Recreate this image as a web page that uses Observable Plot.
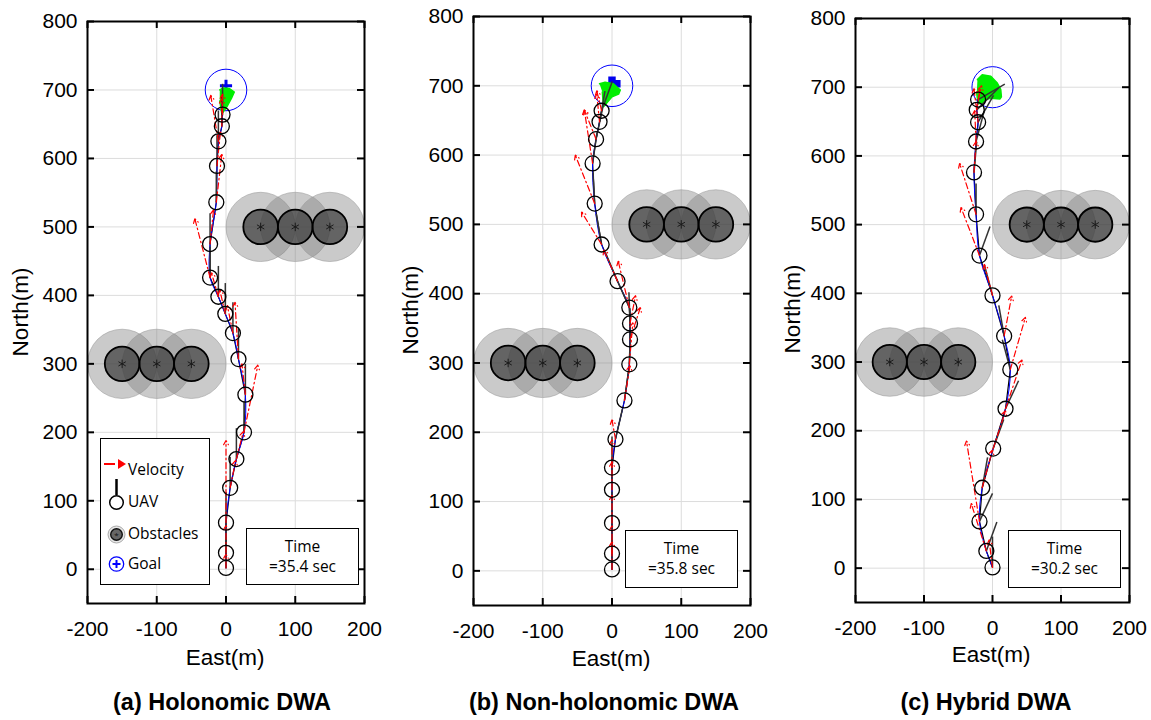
<!DOCTYPE html>
<html><head><meta charset="utf-8">
<script src="https://cdn.jsdelivr.net/npm/d3@7"></script>
<script src="https://cdn.jsdelivr.net/npm/@observablehq/plot@0.6"></script>
<style>
body{margin:0;background:#fff;}
#root{position:relative;width:1151px;height:720px;overflow:hidden;background:#fff;font-family:"Liberation Sans",Arial,sans-serif;}
.panel{position:absolute;top:0;}
.lbl{position:absolute;transform:translate(-50%,-50%);white-space:nowrap;color:#000;}
.box{position:absolute;box-sizing:border-box;border:1px solid #000;background:#fff;font-family:"Open Sans",sans-serif;}
.tline{position:absolute;left:0;right:0;text-align:center;white-space:nowrap;}
</style></head><body><div id="root"></div>
<script>
// ---------- shared data ----------
const xTicks = [-200, -100, 0, 100, 200];
const yTicks = [0, 100, 200, 300, 400, 500, 600, 700, 800];
const obstacleEast = [-150, -100, -50, 50, 100, 150];
const obstacleNorth = [300, 300, 300, 500, 500, 500];
const obstacleInnerRadius = 25;
const obstacleOuterRadius = 50;
const goalEast = 0, goalNorth = 700, goalRadius = 30;
const headingLength = 45;
const legendLabels = ["Velocity", "UAV", "Obstacles", "Goal"];
const panelTitles = ["(a) Holonomic DWA", "(b) Non-holonomic DWA", "(c) Hybrid DWA"];
const timeLabels = ["=35.4 sec", "=35.8 sec", "=30.2 sec"];

// ---------- (a) Holonomic DWA ----------
const aEast    = [0, 0, 0, 6, 15, 26, 28, 18, 10, -1, -11, -23, -23, -14, -13, -11, -6, -5];
const aNorth   = [2, 24, 68, 119, 161, 200, 255, 307, 345, 373, 398, 426, 475, 536, 589, 625, 647, 664];
const aHeading = [0, 0, 0, 0, 0, 0, 0, 0, 0, 0, 0, 0, 0, 0, 0, 0, 0, 0];
const aVelEast = [0, 0, 0, 8, 10, 20, -5, -5, -8, -8, -10, -22, 5, 8, 5, -11, 0, 0];
const aVelNorth= [20, 40, 120, 40, 40, 98, 45, 83, 40, 35, 35, 86, 50, 70, 50, 67, 40, 30];
const aGreenEast  = [-9, -4, 5, 12, 8, 1, -6, -9];
const aGreenNorth = [700, 703, 702, 697, 688, 675, 665, 684];
const aGoalMarkEast = [0], aGoalMarkNorth = [706];

// ---------- (b) Non-holonomic DWA ----------
const bEast    = [0, 0, 0, 0, 0, 5, 18, 25, 26, 26, 25, 8, -15, -25, -28, -23, -18, -15];
const bNorth   = [2, 25, 69, 117, 149, 190, 246, 298, 334, 357, 380, 418, 471, 530, 588, 623, 648, 664];
const bHeading = [0, 0, 0, 0, 0, 13, 8, 2, 0, -2, -24, -23, -10, -3, 8, 12, 10, 20];
const bVelEast = [0, 0, 0, 0, 0, -5, 8, 5, 15, 8, -16, -20, -29, -28, -12, -17, -4, -7];
const bVelNorth= [40, 40, 40, 40, 40, 28, 50, 60, 46, 40, 67, 45, 47, 70, 77, 42, 40, 29];
const bGreenEast  = [-18, -10, 2, 12, 9.5, 0, -7, -12, -13, -14];
const bGreenNorth = [703, 705, 703, 694, 688, 684, 676, 670, 679, 691];
const bGoalMarkEast = [0, 7], bGoalMarkNorth = [708, 703];

// ---------- (c) Hybrid DWA ----------
const cEast    = [0, -9, -19, -15, 1, 19, 26, 17, 0, -19, -24, -27, -24, -21, -23, -21];
const cNorth   = [1, 25, 68, 117, 174, 232, 289, 338, 397, 455, 515, 576, 621, 649, 667, 682];
const cHeading = [0, 20, 25, 10, 20, 25, -15, -10, -15, 20, 0, 5, 15, 30, 45, 60];
const cVelEast = [-5, -22, -19, 15, 18, 24, 22, 11, -12, -27, -24, 3, -2, -6, 5, 5];
const cVelNorth= [40, 69, 117, 55, 55, 71, 76, 58, 45, 70, 74, 45, 45, 49, 30, 20];
const cGreenEast  = [-22, -15, -2.5, 7, 12, 13, 11, -2.5, -10, -15, -21, -23];
const cGreenNorth = [711, 718, 716, 706, 697, 686, 683, 684, 682, 677, 676, 691];
const cGoalMarkEast = [0], cGoalMarkNorth = [700];

const panels = [
  {left: 0,   width: 380, ml: 87, mr: 16, mt: 21, mb: 37,
   east: aEast, north: aNorth, heading: aHeading, velE: aVelEast, velN: aVelNorth,
   greenE: aGreenEast, greenN: aGreenNorth, markE: aGoalMarkEast, markN: aGoalMarkNorth, markSymbol: "plus", markR: 4,
   northLbl: [21, 312], eastLbl: [225, 658], title: [222, 702], timeBox: [246, 528, 113, 57]},
  {left: 390, width: 380, ml: 83, mr: 20, mt: 16, mb: 35,
   east: bEast, north: bNorth, heading: bHeading, velE: bVelEast, velN: bVelNorth,
   greenE: bGreenEast, greenN: bGreenNorth, markE: bGoalMarkEast, markN: bGoalMarkNorth, markSymbol: "square", markR: 2.5,
   northLbl: [411, 310], eastLbl: [611, 659], title: [604, 702], timeBox: [625, 530, 113, 58]},
  {left: 770, width: 381, ml: 85, mr: 22, mt: 18, mb: 38,
   east: cEast, north: cNorth, heading: cHeading, velE: cVelEast, velN: cVelNorth,
   greenE: cGreenEast, greenN: cGreenNorth, markE: cGoalMarkEast, markN: cGoalMarkNorth, markSymbol: "plus", markR: 4,
   northLbl: [793, 309], eastLbl: [991, 655], title: [986, 702], timeBox: [1008, 530, 113, 58]}
];

const H = 640;
const root = document.getElementById("root");
const obstacles = obstacleEast.map((e, i) => ({e, n: obstacleNorth[i]}));

function makePanel(cfg) {
  const pw = cfg.width - cfg.ml - cfg.mr;
  const ph = H - cfg.mt - cfg.mb;
  const k = pw / 400;
  const uav = cfg.east.map((e, i) => ({e, n: cfg.north[i], h: cfg.heading[i], ve: cfg.velE[i], vn: cfg.velN[i]}));
  const green = cfg.greenE.map((e, i) => ({e, n: cfg.greenN[i]}));
  const marks = cfg.markE.map((e, i) => ({e, n: cfg.markN[i]}));
  return Plot.plot({
    width: cfg.width, height: H,
    marginLeft: cfg.ml, marginRight: cfg.mr, marginTop: cfg.mt, marginBottom: cfg.mb,
    x: {domain: [-200, 200], ticks: xTicks, tickFormat: d => String(d), tickSize: 0, tickPadding: 18, label: null},
    y: {domain: [-50, 800], ticks: yTicks, tickFormat: d => String(d), tickSize: 0, tickPadding: 10, label: null},
    style: {fontFamily: "Liberation Sans, Arial, sans-serif", fontSize: "21px", color: "black", background: "transparent", overflow: "visible"},
    marks: [
      Plot.ruleX(xTicks, {stroke: "#dcdcdc", strokeWidth: 1}),
      Plot.ruleY(yTicks, {stroke: "#dcdcdc", strokeWidth: 1}),
      Plot.dot(obstacles, {x: "e", y: "n", r: obstacleOuterRadius * k, fill: "#808080", fillOpacity: 0.42, stroke: "#9a9a9a", strokeOpacity: 0.7, strokeWidth: 0.8, clip: true}),
      Plot.dot(obstacles, {x: "e", y: "n", r: obstacleInnerRadius * k, fill: "#333", fillOpacity: 0.68, stroke: "black", strokeWidth: 1.8, clip: true}),
      Plot.dot(obstacles, {x: "e", y: "n", symbol: "asterisk", r: 4, stroke: "#1a1a1a", strokeWidth: 1}),
      Plot.dot([{e: goalEast, n: goalNorth}], {x: "e", y: "n", r: goalRadius * k, stroke: "blue", strokeWidth: 1, fill: "none"}),
      Plot.dot(marks, {x: "e", y: "n", symbol: cfg.markSymbol, r: cfg.markR, fill: "#0000ee", stroke: "#0000ee", strokeWidth: 3}),
      Plot.line(green, {x: "e", y: "n", fill: "#00ee00", stroke: "#00ee00", strokeWidth: 1.5}),
      Plot.line(uav, {x: "e", y: "n", stroke: "black", strokeWidth: 1.2}),
      Plot.line(uav, {x: "e", y: "n", stroke: "blue", strokeWidth: 1, curve: "catmull-rom"}),
      Plot.link(uav, {x1: "e", y1: "n",
        x2: d => d.e + headingLength * Math.sin(d.h * Math.PI / 180),
        y2: d => d.n + headingLength * Math.cos(d.h * Math.PI / 180),
        stroke: "#333", strokeWidth: 1.5}),
      Plot.arrow(uav, {x1: "e", y1: "n", x2: d => d.e + d.ve, y2: d => d.n + d.vn,
        stroke: "red", strokeWidth: 1.2, strokeDasharray: "6,3,1.5,3", headLength: 6}),
      Plot.dot(uav, {x: "e", y: "n", r: 7.5, stroke: "black", strokeWidth: 1.3, fill: "none"}),
      Plot.ruleX(xTicks, {insetTop: ph - 7, stroke: "black", strokeWidth: 2}),
      Plot.ruleX(xTicks, {insetBottom: ph - 7, stroke: "black", strokeWidth: 2}),
      Plot.ruleY(yTicks, {insetRight: pw - 7, stroke: "black", strokeWidth: 2}),
      Plot.ruleY(yTicks, {insetLeft: pw - 7, stroke: "black", strokeWidth: 2}),
      Plot.frame({stroke: "black", strokeWidth: 2})
    ]
  });
}

function addLabel(text, x, y, css, rotate) {
  const d = document.createElement("div");
  d.className = "lbl";
  d.textContent = text;
  d.style.left = x + "px";
  d.style.top = y + "px";
  Object.assign(d.style, css);
  if (rotate) d.style.transform = "translate(-50%,-50%) rotate(-90deg)";
  root.appendChild(d);
}

panels.forEach((cfg, i) => {
  const wrap = document.createElement("div");
  wrap.className = "panel";
  wrap.style.left = cfg.left + "px";
  wrap.appendChild(makePanel(cfg));
  root.appendChild(wrap);
  addLabel("North(m)", cfg.northLbl[0], cfg.northLbl[1], {fontSize: "22.5px"}, true);
  addLabel("East(m)", cfg.eastLbl[0], cfg.eastLbl[1], {fontSize: "22.5px"});
  addLabel(panelTitles[i], cfg.title[0], cfg.title[1], {fontSize: "23.5px", fontWeight: "bold"});
  const tb = document.createElement("div");
  tb.className = "box";
  const [bx, by, bw, bh] = cfg.timeBox;
  Object.assign(tb.style, {left: bx + "px", top: by + "px", width: bw + "px", height: bh + "px", fontSize: "15.5px"});
  const l1 = document.createElement("div");
  l1.className = "tline"; l1.textContent = "Time";
  Object.assign(l1.style, {top: "7px", lineHeight: "20px"});
  const l2 = document.createElement("div");
  l2.className = "tline"; l2.textContent = timeLabels[i];
  Object.assign(l2.style, {top: "27px", lineHeight: "20px"});
  tb.appendChild(l1); tb.appendChild(l2);
  root.appendChild(tb);
});

// legend in panel (a)
const lg = document.createElement("div");
lg.className = "box";
Object.assign(lg.style, {left: "100px", top: "438px", width: "110px", height: "147px"});
lg.innerHTML = `<svg width="108" height="145" style="position:absolute;left:0;top:0">
  <line x1="3" y1="25" x2="14" y2="25" stroke="red" stroke-width="2"/>
  <path d="M17,20 L25,25 L17,30 Z" fill="red"/>
  <line x1="15.5" y1="40" x2="15.5" y2="56" stroke="black" stroke-width="2.5"/>
  <circle cx="15.5" cy="63.5" r="6.8" fill="none" stroke="black" stroke-width="1.5"/>
  <circle cx="15.5" cy="95.5" r="8.5" fill="#e6e6e6" stroke="#aaa" stroke-width="1"/>
  <circle cx="15.5" cy="95.5" r="5.8" fill="#666" stroke="#111" stroke-width="1.4"/>
  <text x="15.5" y="99" text-anchor="middle" font-size="8" fill="#111">*</text>
  <circle cx="15.5" cy="125" r="7.2" fill="none" stroke="blue" stroke-width="1.3"/>
  <line x1="11.5" y1="125" x2="19.5" y2="125" stroke="blue" stroke-width="2"/>
  <line x1="15.5" y1="121" x2="15.5" y2="129" stroke="blue" stroke-width="2"/>
  ${legendLabels.map((t, j) => `<text x="27" y="${[36, 68, 100, 130][j]}" font-family="Open Sans" font-size="15.5">${t}</text>`).join("")}
</svg>`;
root.appendChild(lg);
</script>
</body></html>
